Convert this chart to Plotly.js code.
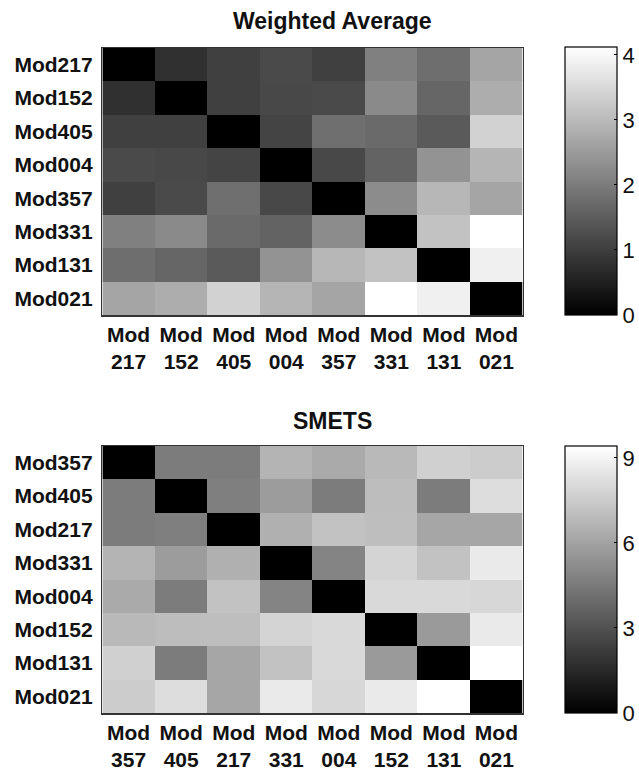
<!DOCTYPE html>
<html>
<head>
<meta charset="utf-8">
<script src="https://cdn.plot.ly/plotly-3.0.1.min.js"></script>
<style>html,body{margin:0;padding:0;background:#fff;}#chart{width:639px;height:770px;}</style>
</head>
<body>
<div id="chart"></div>
<script>
// Weighted Average panel
const waLabels = ["Mod217","Mod152","Mod405","Mod004","Mod357","Mod331","Mod131","Mod021"];
const waTickText = ["Mod<br>217","Mod<br>152","Mod<br>405","Mod<br>004","Mod<br>357","Mod<br>331","Mod<br>131","Mod<br>021"];
const waValues = [
  [0.00, 0.78, 1.03, 1.20, 1.03, 2.07, 1.78, 2.66],
  [0.78, 0.00, 1.03, 1.16, 1.20, 2.23, 1.65, 2.79],
  [1.03, 1.03, 0.00, 1.10, 1.79, 1.71, 1.45, 3.40],
  [1.20, 1.16, 1.10, 0.00, 1.16, 1.60, 2.37, 2.93],
  [1.03, 1.20, 1.79, 1.16, 0.00, 2.27, 2.95, 2.66],
  [2.07, 2.23, 1.71, 1.60, 2.27, 0.00, 3.13, 4.12],
  [1.78, 1.65, 1.45, 2.37, 2.95, 3.13, 0.00, 3.88],
  [2.66, 2.79, 3.40, 2.93, 2.66, 4.12, 3.88, 0.00]
];
const waMax = 4.12;
const waTicks = [0, 1, 2, 3, 4];

// SMETS panel
const smLabels = ["Mod357","Mod405","Mod217","Mod331","Mod004","Mod152","Mod131","Mod021"];
const smTickText = ["Mod<br>357","Mod<br>405","Mod<br>217","Mod<br>331","Mod<br>004","Mod<br>152","Mod<br>131","Mod<br>021"];
const smValues = [
  [0.00, 4.58, 4.58, 6.65, 6.28, 6.85, 7.68, 7.54],
  [4.58, 0.00, 4.70, 5.76, 4.58, 7.00, 4.58, 8.15],
  [4.58, 4.70, 0.00, 6.50, 7.17, 7.02, 6.13, 6.13],
  [6.65, 5.76, 6.50, 0.00, 4.88, 7.83, 7.17, 8.64],
  [6.28, 4.58, 7.17, 4.88, 0.00, 8.00, 8.00, 7.95],
  [6.85, 7.00, 7.02, 7.83, 8.00, 0.00, 5.69, 8.64],
  [7.68, 4.58, 6.13, 7.17, 8.00, 5.69, 0.00, 9.42],
  [7.54, 8.15, 6.13, 8.64, 7.95, 8.64, 9.42, 0.00]
];
const smMax = 9.42;
const smTicks = [0, 3, 6, 9];

const W = 639, H = 770;
const FONT = "Liberation Sans, Arial, sans-serif";
const gray = [[0, "rgb(0,0,0)"], [1, "rgb(255,255,255)"]];

function cb(yTop, yBot, ticks) {
  return {
    x: 569 / W, xanchor: "left", xpad: 0, ypad: 0,
    y: 1 - ((yTop + yBot) / 2) / H, yanchor: "middle",
    len: (yBot - yTop) / H, lenmode: "fraction",
    thickness: 52, thicknessmode: "pixels",
    outlinewidth: 1.2, outlinecolor: "#000",
    tickmode: "array", tickvals: ticks,
    ticks: "inside", ticklen: 3, tickcolor: "#000",
    tickprefix: "\u2009",
    tickfont: {family: FONT, size: 22, color: "#111"}
  };
}

const traces = [
  {
    type: "heatmap", x: waLabels, y: waLabels, z: waValues,
    colorscale: gray, zmin: 0, zmax: waMax,
    xaxis: "x", yaxis: "y",
    colorbar: cb(47, 315, waTicks)
  },
  {
    type: "heatmap", x: smLabels, y: smLabels, z: smValues,
    colorscale: gray, zmin: 0, zmax: smMax,
    xaxis: "x2", yaxis: "y2",
    colorbar: cb(446, 713, smTicks)
  }
];

function xax(labels, ticktext, anchor) {
  return {
    domain: [103 / W, 526 / W], anchor: anchor,
    type: "category", tickmode: "array", tickvals: labels, ticktext: ticktext,
    showline: true, mirror: true, linecolor: "#333", linewidth: 1.5,
    showgrid: false, zeroline: false, ticks: "", ticklabelstandoff: 0,
    tickfont: {family: FONT, size: 21, color: "#111", weight: "bold"}
  };
}
function yax(labels, top, bot, anchor) {
  return {
    domain: [1 - bot / H, 1 - top / H], anchor: anchor,
    type: "category", autorange: "reversed",
    showline: true, mirror: true, linecolor: "#333", linewidth: 1.5,
    showgrid: false, zeroline: false, ticks: "", ticklabelstandoff: 4,
    tickfont: {family: FONT, size: 21, color: "#111", weight: "bold"}
  };
}

const layout = {
  width: W, height: H,
  margin: {l: 0, r: 0, t: 0, b: 0},
  paper_bgcolor: "#fff", plot_bgcolor: "#fff",
  showlegend: false,
  xaxis: xax(waLabels, waTickText, "y"),
  yaxis: yax(waLabels, 48, 315, "x"),
  xaxis2: xax(smLabels, smTickText, "y2"),
  yaxis2: yax(smLabels, 446, 713, "x2"),
  annotations: [
    {text: "<b>Weighted Average</b>", xref: "paper", yref: "paper",
     x: 335 / W, y: 1 - 21 / H, xanchor: "center", yanchor: "middle",
     showarrow: false, font: {family: FONT, size: 23, color: "#111"}},
    {text: "<b>SMETS</b>", xref: "paper", yref: "paper",
     x: 335 / W, y: 1 - 421 / H, xanchor: "center", yanchor: "middle",
     showarrow: false, font: {family: FONT, size: 23, color: "#111"}}
  ]
};

Plotly.newPlot("chart", traces, layout, {staticPlot: true, displayModeBar: false});
</script>
</body>
</html>
